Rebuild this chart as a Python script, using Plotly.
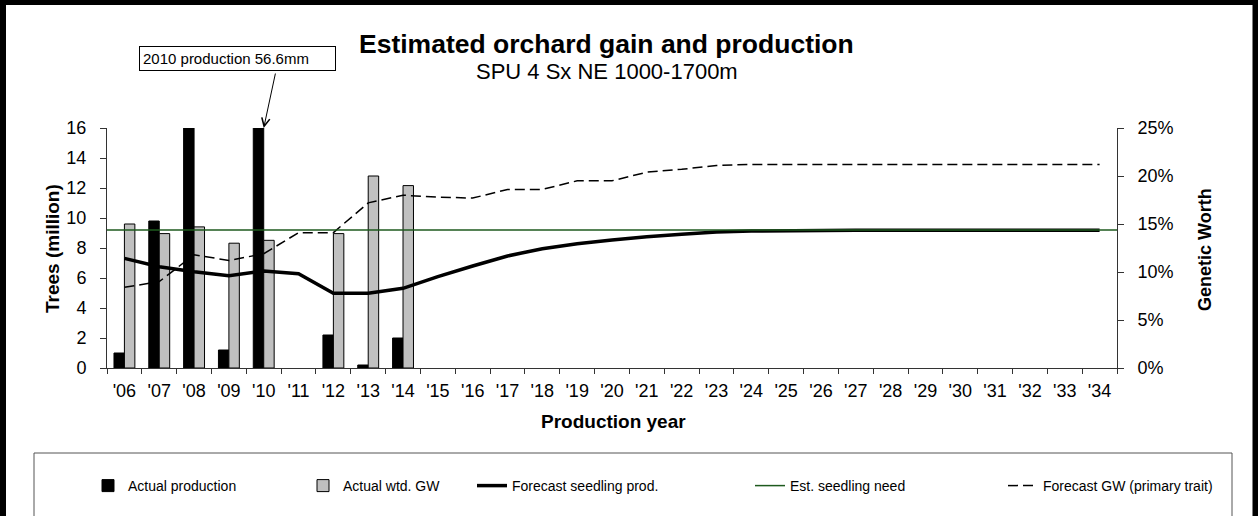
import plotly.graph_objects as go

# ---------------- data ----------------
years = ["'06", "'07", "'08", "'09", "'10", "'11", "'12", "'13", "'14", "'15",
         "'16", "'17", "'18", "'19", "'20", "'21", "'22", "'23", "'24", "'25",
         "'26", "'27", "'28", "'29", "'30", "'31", "'32", "'33", "'34"]

actual_years = ["'06", "'07", "'08", "'09", "'10", "'11", "'12", "'13", "'14"]
actual_production = [1.0, 9.8, 20.0, 1.2, 56.6, None, 2.2, 0.2, 2.0]          # million trees
actual_wtd_gw = [0.150, 0.140, 0.147, 0.130, 0.133, None, 0.140, 0.200, 0.190]  # fraction

forecast_seedling = [7.31, 6.75, 6.42, 6.15, 6.47, 6.29, 4.98, 4.98, 5.31, 6.09,
                     6.80, 7.47, 7.95, 8.29, 8.53, 8.75, 8.91, 9.07, 9.13, 9.16,
                     9.18, 9.18, 9.18, 9.18, 9.18, 9.18, 9.18, 9.18, 9.18]
seedling_need = [9.2, 9.2, 9.2, 9.2, 9.2, 9.2, 9.2, 9.2, 9.2, 9.2,
                 9.2, 9.2, 9.2, 9.2, 9.2, 9.2, 9.2, 9.2, 9.2, 9.2,
                 9.2, 9.2, 9.2, 9.2, 9.2, 9.2, 9.2, 9.2, 9.2]
forecast_gw = [0.084, 0.090, 0.118, 0.112, 0.119, 0.141, 0.141, 0.172, 0.180, 0.178,
               0.177, 0.186, 0.186, 0.195, 0.195, 0.204, 0.207, 0.211, 0.212, 0.212,
               0.212, 0.212, 0.212, 0.212, 0.212, 0.212, 0.212, 0.212, 0.212]

left_ticks = [0, 2, 4, 6, 8, 10, 12, 14, 16]
right_ticks = [0, 0.05, 0.10, 0.15, 0.20, 0.25]

title_text = "Estimated orchard gain and production"
subtitle_text = "SPU 4 Sx NE 1000-1700m"
callout_text = "2010 production 56.6mm"

# ---------------- layout geometry ----------------
W, H = 1258, 516
ML, MR, MT, MB = 107, 141, 128, 148
PW, PH = W - ML - MR, H - MT - MB
FONT = "Liberation Sans, Arial, sans-serif"
AXC = "#333333"


def px(x):
    return (x - ML) / PW


def py(y):
    return (H - MB - y) / PH


fig = go.Figure()

fig.add_trace(go.Bar(
    x=actual_years, y=actual_production, name="Actual production",
    marker=dict(color="black", line=dict(color="black", width=1)),
    offset=-0.3, width=0.3, yaxis="y", legend="legend",
))
fig.add_trace(go.Bar(
    x=actual_years, y=actual_wtd_gw, name="Actual wtd. GW",
    marker=dict(color="#C0C0C0", line=dict(color="black", width=1)),
    offset=0.0, width=0.3, yaxis="y2", legend="legend2",
))
fig.add_trace(go.Scatter(
    x=years, y=forecast_seedling, name="Forecast seedling prod.", mode="lines",
    line=dict(color="black", width=3.5), yaxis="y3", legend="legend3",
))
fig.add_trace(go.Scatter(
    x=list(range(len(years))), y=seedling_need, name="Est. seedling need", mode="lines",
    line=dict(color="#1E5A1E", width=1.5), xaxis="x2", yaxis="y3", legend="legend4",
))
fig.add_trace(go.Scatter(
    x=years, y=forecast_gw, name="Forecast GW (primary trait)", mode="lines",
    line=dict(color="black", width=1.5, dash="10px,5px"), yaxis="y4", legend="legend5",
))

tickfont = dict(family=FONT, size=18, color="black")

fig.update_layout(
    width=W, height=H,
    margin=dict(l=ML, r=MR, t=MT, b=MB, pad=0),
    paper_bgcolor="white", plot_bgcolor="white",
    font=dict(family=FONT, color="black"),
    barmode="overlay",
    showlegend=True,
    xaxis=dict(
        type="category", categoryorder="array", categoryarray=years,
        range=[-0.5, len(years) - 0.5],
        showline=True, linecolor=AXC, linewidth=1,
        ticks="outside", tickson="boundaries", ticklen=5, tickcolor=AXC,
        showgrid=False, zeroline=False, tickfont=tickfont, ticklabelstandoff=6,
    ),
    xaxis2=dict(overlaying="x", anchor="y3", range=[0, len(years) - 1],
                visible=False, showgrid=False, zeroline=False),
    yaxis=dict(
        range=[0, 16], tickvals=left_ticks, showline=True, linecolor=AXC, linewidth=1,
        ticks="outside", ticklen=6, tickcolor=AXC, showgrid=False, zeroline=False,
        tickfont=tickfont, ticklabelstandoff=10,
    ),
    yaxis2=dict(
        overlaying="y", side="right", range=[0, 0.25], tickvals=right_ticks,
        tickformat=".0%", showline=True, linecolor=AXC, linewidth=1,
        ticks="outside", ticklen=6, tickcolor=AXC, showgrid=False, zeroline=False,
        tickfont=tickfont, ticklabelstandoff=10,
    ),
    yaxis3=dict(overlaying="y", range=[0, 16], visible=False,
                showgrid=False, zeroline=False),
    yaxis4=dict(overlaying="y", range=[0, 0.25], visible=False,
                showgrid=False, zeroline=False),
)

# legends: one per entry so each can sit where the original has it
leg_common = dict(orientation="h", yanchor="middle", xanchor="left",
                  bgcolor="rgba(0,0,0,0)", borderwidth=0,
                  font=dict(family=FONT, size=14, color="black"))
legend_text_starts = [128, 343, 512, 790, 1043]
for i, tx in enumerate(legend_text_starts):
    key = "legend" if i == 0 else f"legend{i + 1}"
    fig.update_layout({key: dict(leg_common, x=px(tx - 40), y=py(486))})

# titles and texts
fig.add_annotation(text=f"<b>{title_text}</b>", xref="paper", yref="paper",
                   x=px(606), y=py(44), showarrow=False, xanchor="center", yanchor="middle",
                   font=dict(family=FONT, size=26.5, color="black"))
fig.add_annotation(text=subtitle_text, xref="paper", yref="paper",
                   x=px(607), y=py(72), showarrow=False, xanchor="center", yanchor="middle",
                   font=dict(family=FONT, size=22, color="black"))
fig.add_annotation(text="<b>Trees (million)</b>", xref="paper", yref="paper",
                   x=px(52), y=py(249), showarrow=False, textangle=-90,
                   xanchor="center", yanchor="middle",
                   font=dict(family=FONT, size=19, color="black"))
fig.add_annotation(text="<b>Genetic Worth</b>", xref="paper", yref="paper",
                   x=px(1205), y=py(250), showarrow=False, textangle=-90,
                   xanchor="center", yanchor="middle",
                   font=dict(family=FONT, size=18, color="black"))
fig.add_annotation(text="<b>Production year</b>", xref="paper", yref="paper",
                   x=px(613), y=py(421), showarrow=False,
                   xanchor="center", yanchor="middle",
                   font=dict(family=FONT, size=19, color="black"))

# callout box and arrow to the clipped 2010 bar
fig.add_annotation(text=callout_text, xref="paper", yref="paper",
                   x=px(237.5), y=py(58.5), showarrow=False,
                   xanchor="center", yanchor="middle", align="left",
                   width=189, height=17, borderpad=3,
                   bordercolor="black", borderwidth=1, bgcolor="white",
                   font=dict(family=FONT, size=15, color="black"))
fig.add_annotation(text="", x="'10", y=16, xref="x", yref="y",
                   showarrow=True, ax=12, ay=-56, arrowhead=5, arrowsize=1.6,
                   arrowwidth=1, arrowcolor="black", standoff=0)

# legend frame
fig.add_shape(type="rect", xref="paper", yref="paper",
              x0=px(34), x1=px(1232), y0=py(453), y1=py(540),
              line=dict(color="#555555", width=1), fillcolor="rgba(0,0,0,0)", layer="below")
# outer chart border (top, left, right)
border = dict(color="black", width=6)
fig.add_shape(type="line", xref="paper", yref="paper",
              x0=px(0), x1=px(W), y0=py(2), y1=py(2), line=border)
fig.add_shape(type="line", xref="paper", yref="paper",
              x0=px(3), x1=px(3), y0=py(0), y1=py(H), line=border)
fig.add_shape(type="line", xref="paper", yref="paper",
              x0=px(1255.5), x1=px(1255.5), y0=py(0), y1=py(H), line=border)

fig.write_html("out.html", config={"displayModeBar": False},
               post_script="document.body.style.margin='0';")
